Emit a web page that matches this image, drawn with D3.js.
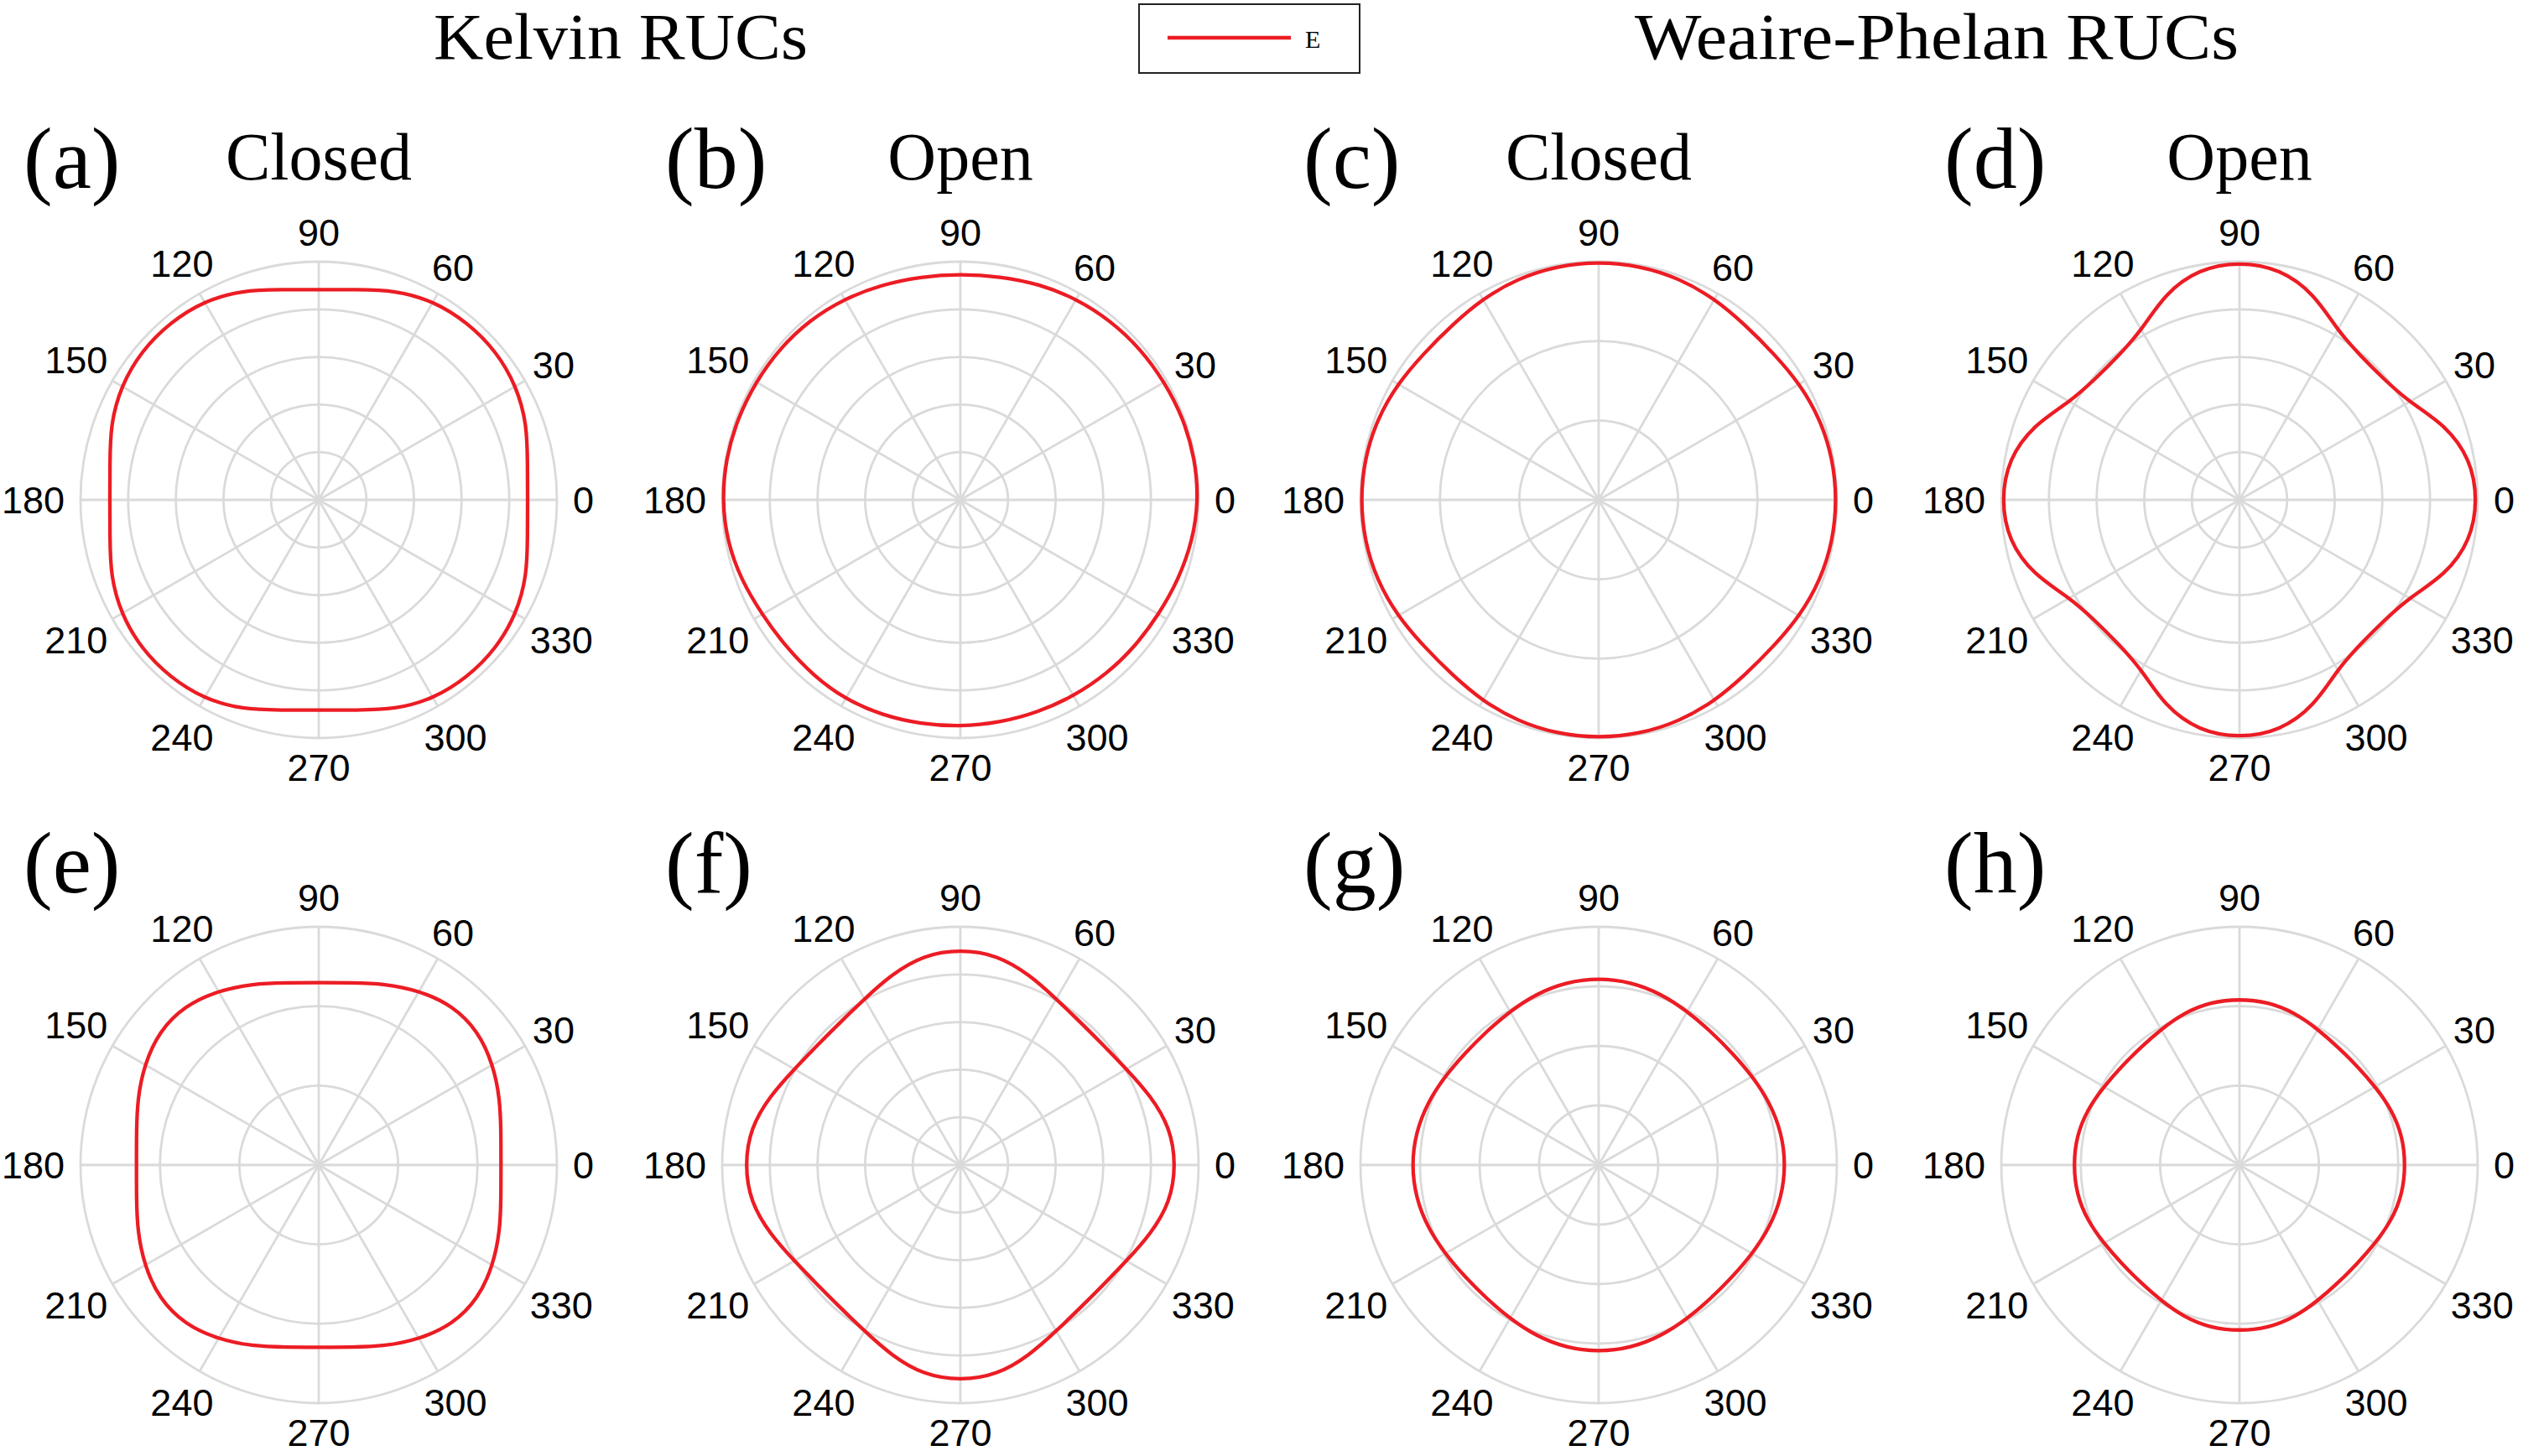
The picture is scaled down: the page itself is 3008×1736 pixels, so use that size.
<!DOCTYPE html>
<html>
<head>
<meta charset="utf-8">
<script src="https://cdn.jsdelivr.net/npm/d3@7/dist/d3.min.js"></script>
<style>
  body { margin: 0; background: #fff; }
  svg { display: block; }
</style>
</head>
<body>
<svg id="chart" width="3008" height="1736"></svg>
<script>
const angles = [0,10,20,30,40,50,60,70,80,90,100,110,120,130,140,150,160,170,
                180,190,200,210,220,230,240,250,260,270,280,290,300,310,320,330,340,350];
const thetaTicks = [0,30,60,90,120,150,180,210,240,270,300,330];

const panelLetters = ["(a)","(b)","(c)","(d)","(e)","(f)","(g)","(h)"];
const panelTitles = ["Closed","Open","Closed","Open","","","",""];
const ringCounts = [5,5,3,5,3,5,4,3];
const groupTitles = ["Kelvin RUCs","Weaire-Phelan RUCs"];
const legendLabel = "E";

// radial values, normalised to the outer ring of each panel
const rA = [0.877,0.89,0.93,0.958,0.972,0.972,0.964,0.937,0.896,
            0.883,0.896,0.937,0.964,0.972,0.972,0.958,0.93,0.89,
            0.877,0.89,0.93,0.958,0.972,0.972,0.964,0.937,0.896,
            0.883,0.896,0.937,0.964,0.972,0.972,0.958,0.93,0.89];
const rB = [1.0,1.0,0.997,0.99,0.987,0.982,0.975,0.965,0.953,
            0.948,0.952,0.962,0.975,0.985,0.99,0.992,0.996,1.0,
            1.0,0.995,0.98,0.962,0.958,0.962,0.967,0.962,0.956,
            0.952,0.95,0.95,0.952,0.955,0.958,0.962,0.975,0.99];
const rC = [1.0,0.998,0.99,0.975,0.958,0.958,0.975,0.99,0.998,
            1.0,0.998,0.99,0.975,0.958,0.958,0.975,0.99,0.998,
            1.0,0.998,0.99,0.975,0.958,0.958,0.975,0.99,0.998,
            1.0,0.998,0.99,0.975,0.958,0.958,0.975,0.99,0.998];
const rD = [1.0,0.985,0.92,0.822,0.79,0.79,0.822,0.92,0.985,
            1.0,0.985,0.92,0.822,0.79,0.79,0.822,0.92,0.985,
            1.0,0.985,0.92,0.822,0.79,0.79,0.822,0.92,0.985,
            1.0,0.985,0.92,0.822,0.79,0.79,0.822,0.92,0.985];
const rE = [0.765,0.777,0.81,0.845,0.874,0.874,0.845,0.81,0.777,
            0.765,0.777,0.81,0.845,0.874,0.874,0.845,0.81,0.777,
            0.765,0.777,0.81,0.845,0.874,0.874,0.845,0.81,0.777,
            0.765,0.777,0.81,0.845,0.874,0.874,0.845,0.81,0.777];
const rF = [0.905,0.895,0.85,0.805,0.783,0.783,0.805,0.85,0.895,
            0.905,0.895,0.85,0.805,0.783,0.783,0.805,0.85,0.895,
            0.905,0.895,0.85,0.805,0.783,0.783,0.805,0.85,0.895,
            0.905,0.895,0.85,0.805,0.783,0.783,0.805,0.85,0.895];
const rG = [0.785,0.78,0.765,0.745,0.732,0.732,0.745,0.765,0.78,
            0.785,0.78,0.765,0.745,0.732,0.732,0.745,0.765,0.78,
            0.785,0.78,0.765,0.745,0.732,0.732,0.745,0.765,0.78,
            0.785,0.78,0.765,0.745,0.732,0.732,0.745,0.765,0.78];
const rH = [0.697,0.695,0.68,0.658,0.645,0.645,0.658,0.68,0.695,
            0.697,0.695,0.68,0.658,0.645,0.645,0.658,0.68,0.695,
            0.697,0.695,0.68,0.658,0.645,0.645,0.658,0.68,0.695,
            0.697,0.695,0.68,0.658,0.645,0.645,0.658,0.68,0.695];
const series = [rA, rB, rC, rD, rE, rF, rG, rH];

// layout
const R = 284;
const colX = [380, 1145, 1906, 2670];
const rowY = [596, 1389];
const gridColor = "#dadada";
const red = "#ec1c24";
const tickFs = 45;
const serif = "'Liberation Serif', 'DejaVu Serif', serif";
const sans = "'Liberation Sans', Arial, sans-serif";

const svg = d3.select("#chart");
svg.append("rect").attr("width", 3008).attr("height", 1736).attr("fill", "#fff");

const rScale = d3.scaleLinear().domain([0, 1]).range([0, R]);
const toRad = d => d * Math.PI / 180;

// header
svg.append("text")
  .attr("x", 740).attr("y", 70)
  .attr("text-anchor", "middle")
  .attr("font-family", serif).attr("font-size", 79)
  .attr("textLength", 446).attr("lengthAdjust", "spacingAndGlyphs")
  .text(groupTitles[0]);
svg.append("text")
  .attr("x", 2309).attr("y", 70)
  .attr("text-anchor", "middle")
  .attr("font-family", serif).attr("font-size", 79)
  .attr("textLength", 720).attr("lengthAdjust", "spacingAndGlyphs")
  .text(groupTitles[1]);

// legend
const leg = svg.append("g");
leg.append("rect")
  .attr("x", 1358).attr("y", 5).attr("width", 263).attr("height", 82)
  .attr("fill", "#fff").attr("stroke", "#222").attr("stroke-width", 2);
leg.append("line")
  .attr("x1", 1392).attr("x2", 1539).attr("y1", 45).attr("y2", 45)
  .attr("stroke", red).attr("stroke-width", 4.5);
leg.append("text")
  .attr("x", 1556).attr("y", 57)
  .attr("font-family", serif).attr("font-size", 30)
  .text(legendLabel);

// smooth closed curve through the read values
const line = d3.lineRadial()
  .angle(d => Math.PI / 2 - toRad(d[0]))
  .radius(d => rScale(d[1]))
  .curve(d3.curveBasisClosed);

series.forEach((vals, i) => {
  const cx = colX[i % 4];
  const cy = rowY[Math.floor(i / 4)];
  const top = i < 4;
  const g = svg.append("g").attr("transform", `translate(${cx},${cy})`);

  // rings
  const rings = d3.range(1, ringCounts[i] + 1).map(k => k / ringCounts[i]);
  g.selectAll("circle.ring").data(rings).enter().append("circle")
    .attr("class", "ring")
    .attr("r", d => rScale(d))
    .attr("fill", "none").attr("stroke", gridColor).attr("stroke-width", 2.8);

  // spokes
  g.selectAll("line.spoke").data(thetaTicks).enter().append("line")
    .attr("class", "spoke")
    .attr("x1", 0).attr("y1", 0)
    .attr("x2", d => rScale(1) * Math.cos(toRad(d)))
    .attr("y2", d => -rScale(1) * Math.sin(toRad(d)))
    .attr("stroke", gridColor).attr("stroke-width", 2.8);

  // theta tick labels
  g.selectAll("text.tick").data(thetaTicks).enter().append("text")
    .attr("class", "tick")
    .attr("text-anchor", "middle")
    .attr("font-family", sans).attr("font-size", tickFs)
    .attr("fill", "#000")
    .each(function(d) {
      const a = toRad(d);
      const w = String(d).length * 0.556 * tickFs;
      const h = 0.716 * tickFs;
      const gap = 19 - 11 * Math.abs(Math.sin(2 * a));
      const D = rScale(1) + gap + (w / 2) * Math.abs(Math.cos(a)) + (h / 2) * Math.abs(Math.sin(a));
      d3.select(this)
        .attr("x", D * Math.cos(a))
        .attr("y", -D * Math.sin(a) + h / 2);
    })
    .text(d => d);

  // data curve
  const pts = angles.map((a, j) => [a, vals[j]]);
  g.append("path")
    .attr("d", line(pts))
    .attr("fill", "none").attr("stroke", red).attr("stroke-width", 4.3);

  // panel letter and title
  svg.append("text")
    .attr("x", cx - 352).attr("y", top ? 224 : 1064)
    .attr("font-family", serif).attr("font-size", 104)
    .text(panelLetters[i]);
  if (panelTitles[i]) {
    svg.append("text")
      .attr("x", cx).attr("y", 214)
      .attr("text-anchor", "middle")
      .attr("font-family", serif).attr("font-size", 80)
      .text(panelTitles[i]);
  }
});
</script>
</body>
</html>
